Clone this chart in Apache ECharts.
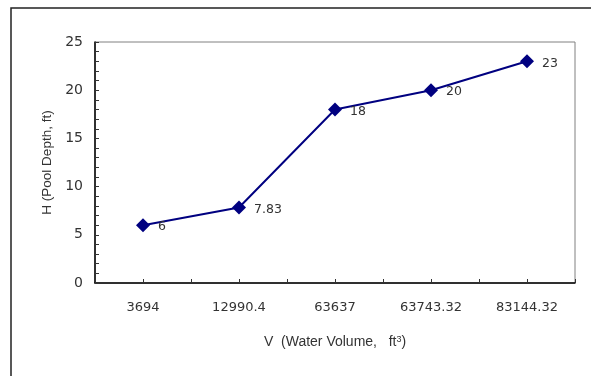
<!DOCTYPE html>
<html><head><meta charset="utf-8">
<script src="https://cdn.jsdelivr.net/npm/echarts@6/dist/echarts.min.js"></script>
<style>html,body{margin:0;padding:0;background:#fff}#c{width:591px;height:376px}</style>
</head><body><div id="c"></div>
<script>
const categories = ['3694', '12990.4', '63637', '63743.32', '83144.32'];
const depthValues = [6, 7.83, 18, 20, 23];
const yTicks = [0, 5, 10, 15, 20, 25];

const chart = echarts.init(document.getElementById('c'));
const font = 'Liberation Sans, Arial, sans-serif';
const numFont = 'DejaVu Sans, sans-serif';
// place categories at centres of equal slots on a value axis (slot i centre = 2i+1)
const seriesData = depthValues.map((v, i) => [2 * i + 1, v]);
chart.setOption({
  animation: false,
  graphic: [{
    type: 'rect', shape: { x: 11, y: 8, width: 620, height: 420 },
    style: { fill: 'none', stroke: '#222', lineWidth: 1.5 }, z: -1
  }],
  grid: { left: 95, top: 42, width: 480, height: 241, show: true, borderColor: '#808080', borderWidth: 1, backgroundColor: 'transparent' },
  xAxis: {
    type: 'value', min: 0, max: 2 * categories.length, interval: 1,
    name: '{a|V  (Water Volume,   ft}{s|3}{a|)}', nameLocation: 'middle', nameGap: 52,
    nameTextStyle: { rich: { a: { fontFamily: font, fontSize: 14, color: '#333' }, s: { fontFamily: font, fontSize: 9, color: '#333', verticalAlign: 'top', padding: [0, 0, 6, 0] } } },
    axisLine: { show: true, lineStyle: { color: '#000', width: 1.5 } },
    axisTick: { show: true, inside: true, length: 4, lineStyle: { color: '#333' } },
    axisLabel: { margin: 18, fontFamily: numFont, fontSize: 13, color: '#333',
      formatter: v => (v % 2 === 1 ? categories[(v - 1) / 2] : '') },
    splitLine: { show: false }
  },
  yAxis: {
    type: 'value', min: yTicks[0], max: yTicks[yTicks.length - 1], interval: 5,
    name: 'H (Pool Depth, ft)', nameLocation: 'middle', nameGap: 41, nameRotate: 90,
    nameTextStyle: { fontFamily: font, fontSize: 13.5, color: '#333' },
    axisLine: { show: true, lineStyle: { color: '#000', width: 1.5 } },
    axisTick: { show: true, inside: true, length: 4, lineStyle: { color: '#333' } },
    minorTick: { show: true, splitNumber: 5, length: 4, lineStyle: { color: '#333' } },
    axisLabel: { margin: 12, fontFamily: numFont, fontSize: 14, color: '#333' },
    splitLine: { show: false }
  },
  series: [{
    type: 'line', data: seriesData,
    symbol: 'diamond', symbolSize: 14,
    lineStyle: { color: '#000080', width: 2 },
    itemStyle: { color: '#000080' },
    label: { show: true, position: 'right', distance: 8, offset: [0, 2], fontFamily: numFont, fontSize: 12.5, color: '#333',
      formatter: p => String(depthValues[p.dataIndex]) }
  }]
});
</script></body></html>
